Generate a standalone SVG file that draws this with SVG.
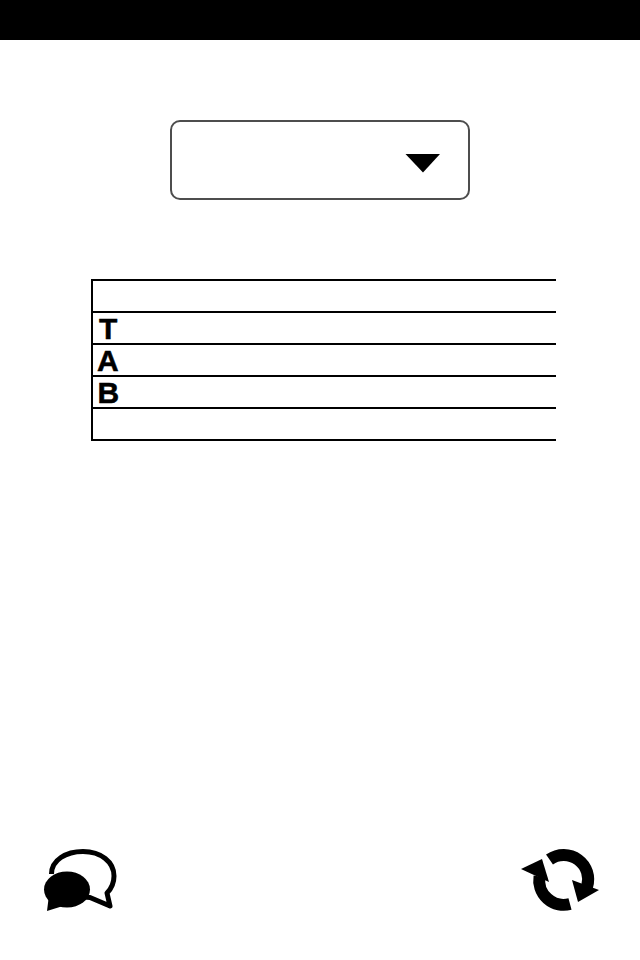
<svg xmlns="http://www.w3.org/2000/svg" width="640" height="960" viewBox="0 0 640 960">
<style>
.rule{stroke:#000;stroke-width:2;fill:none}
.letter{font-family:"Liberation Sans",Arial,sans-serif;font-weight:700;font-size:30px;fill:#000;stroke:#000;stroke-width:.5}
.arc{fill:none;stroke:#000;stroke-width:12}
</style>
<rect width="640" height="960" fill="#fff"/>
<rect id="top-bar" x="0" y="0" width="640" height="40" fill="#000"/>
<g id="dropdown">
<rect x="171" y="121" width="298" height="78" rx="9" ry="9" fill="#fff" stroke="#4d4d4d" stroke-width="2"/>
<polygon points="405.500,154 440,154 423,172.500" fill="#000"/>
</g>
<g id="table">
<path class="rule" d="M92 279V441M91 280H556M91 312H556M91 344H556M91 376H556M91 408H556M91 440H556"/>
<text class="letter" x="99" y="339">T</text>
<text class="letter" x="97" y="371">A</text>
<text class="letter" x="97.500" y="403">B</text>
</g>
<g id="chat-button">
<path d="M51.500 874C51.500 860 66 851.500 83 851.500C101 851.500 114 862 114 876C114 884 110 890 107 893L110 906L90 897.500L84 897" fill="#fff" stroke="#000" stroke-width="5" stroke-linejoin="round"/>
<ellipse cx="67" cy="889.500" rx="23" ry="18" fill="#000"/>
<polygon points="47,911 49,895 63,906" fill="#000"/>
</g>
<g id="refresh-button">
<path class="arc" d="M549.500 859.500A24.500 24.500 0 0 1 587 887"/>
<path class="arc" d="M539.500 876.500A24.500 24.500 0 0 0 570 904"/>
<polygon points="572,880 599,890 578,902" fill="#000"/>
<polygon points="521,869 542,859 549,882" fill="#000"/>
</g>
</svg>
